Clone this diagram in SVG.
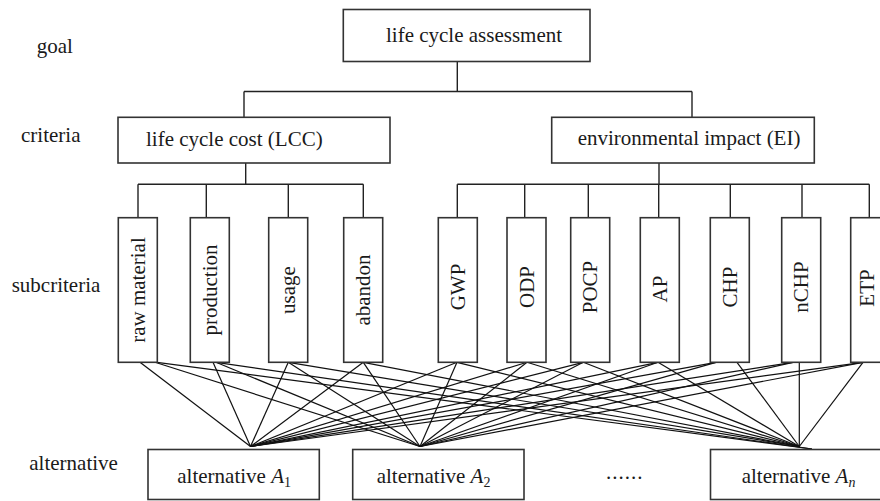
<svg xmlns="http://www.w3.org/2000/svg" width="880" height="501" viewBox="0 0 880 501">
<style>
text{font-family:"Liberation Serif","Times New Roman",serif;font-size:21px;fill:#1a1a1a}
.box{fill:#fff;stroke:#333;stroke-width:1.6}
.tree line{stroke:#222;stroke-width:1.4}
.links line{stroke:#111;stroke-width:1.2}
.v{text-anchor:middle}
.sub{font-size:14px}
</style>
<rect width="880" height="501" fill="#fff"/>
<g id="labels">
<text x="36.7" y="53.3">goal</text>
<text x="21" y="141.7">criteria</text>
<text x="11.7" y="291.7">subcriteria</text>
<text x="29.3" y="470">alternative</text>
</g>
<g id="connectors">
<g class="tree">
<line x1="457.3" y1="61.5" x2="457.3" y2="91.5"/>
<line x1="244" y1="91.5" x2="692" y2="91.5"/>
<line x1="244" y1="91.5" x2="244" y2="117.3"/>
<line x1="692" y1="91.5" x2="692" y2="117.3"/>
<line x1="245.7" y1="163" x2="245.7" y2="184.3"/>
<line x1="138" y1="184.3" x2="363.3" y2="184.3"/>
<line x1="138" y1="184.3" x2="138" y2="217.7"/>
<line x1="206.3" y1="184.3" x2="206.3" y2="217.7"/>
<line x1="288.3" y1="184.3" x2="288.3" y2="217.7"/>
<line x1="363.3" y1="184.3" x2="363.3" y2="217.7"/>
<line x1="659" y1="163" x2="659" y2="184.3"/>
<line x1="457.3" y1="184.3" x2="869.3" y2="184.3"/>
<line x1="457.3" y1="184.3" x2="457.3" y2="217.7"/>
<line x1="524.7" y1="184.3" x2="524.7" y2="217.7"/>
<line x1="588.3" y1="184.3" x2="588.3" y2="217.7"/>
<line x1="658.7" y1="184.3" x2="658.7" y2="217.7"/>
<line x1="730.3" y1="184.3" x2="730.3" y2="217.7"/>
<line x1="802" y1="184.3" x2="802" y2="217.7"/>
<line x1="869.3" y1="184.3" x2="869.3" y2="217.7"/>
</g>
<g class="links">
<line x1="140" y1="362.3" x2="250.5" y2="446.5"/>
<line x1="155" y1="362.3" x2="420" y2="446.5"/>
<line x1="157" y1="362.3" x2="812" y2="449"/>
<line x1="213" y1="362.3" x2="250.5" y2="446.5"/>
<line x1="216" y1="362.3" x2="420" y2="446.5"/>
<line x1="216" y1="362.3" x2="812" y2="449"/>
<line x1="288.3" y1="362.3" x2="250.5" y2="446.5"/>
<line x1="288.3" y1="362.3" x2="420" y2="446.5"/>
<line x1="288.3" y1="362.3" x2="799.3" y2="446.5"/>
<line x1="363.3" y1="362.3" x2="250.5" y2="446.5"/>
<line x1="363.3" y1="362.3" x2="420" y2="446.5"/>
<line x1="363.3" y1="362.3" x2="799.3" y2="446.5"/>
<line x1="457" y1="362.3" x2="250.5" y2="446.5"/>
<line x1="457" y1="362.3" x2="420" y2="446.5"/>
<line x1="457" y1="362.3" x2="799.3" y2="446.5"/>
<line x1="527" y1="362.3" x2="250.5" y2="446.5"/>
<line x1="527" y1="362.3" x2="420" y2="446.5"/>
<line x1="527" y1="362.3" x2="799.3" y2="446.5"/>
<line x1="583.3" y1="362.3" x2="250.5" y2="446.5"/>
<line x1="583.3" y1="362.3" x2="420" y2="446.5"/>
<line x1="583.3" y1="362.3" x2="799.3" y2="446.5"/>
<line x1="658" y1="362.3" x2="250.5" y2="446.5"/>
<line x1="658" y1="362.3" x2="420" y2="446.5"/>
<line x1="658" y1="362.3" x2="799.3" y2="446.5"/>
<line x1="716" y1="362.3" x2="250.5" y2="446.5"/>
<line x1="716" y1="362.3" x2="420" y2="446.5"/>
<line x1="737" y1="362.3" x2="799.3" y2="446.5"/>
<line x1="793" y1="362.3" x2="250.5" y2="446.5"/>
<line x1="793" y1="362.3" x2="420" y2="446.5"/>
<line x1="799.3" y1="362.3" x2="799.3" y2="446.5"/>
<line x1="863" y1="362.3" x2="250.5" y2="446.5"/>
<line x1="863" y1="362.3" x2="420" y2="446.5"/>
<line x1="863" y1="362.3" x2="799.3" y2="446.5"/>
</g>
</g>
<g id="goal"><rect class="box" x="343.3" y="9.5" width="246.7" height="52"/><text x="386" y="41.7">life cycle assessment</text></g>
<g id="lcc"><rect class="box" x="118" y="117.3" width="272" height="45.7"/><text x="146" y="145.7">life cycle cost (LCC)</text></g>
<g id="ei"><rect class="box" x="551.7" y="117.3" width="262.6" height="45.7"/><text x="577.7" y="145">environmental impact (EI)</text></g>
<g id="raw-material"><rect class="box" x="118.3" y="217.7" width="39" height="144.6"/><text class="v" transform="translate(145,290) rotate(-90)">raw material</text></g>
<g id="production"><rect class="box" x="190.3" y="217.7" width="39" height="144.6"/><text class="v" transform="translate(217,290) rotate(-90)">production</text></g>
<g id="usage"><rect class="box" x="268.7" y="217.7" width="39" height="144.6"/><text class="v" transform="translate(295.4,290) rotate(-90)">usage</text></g>
<g id="abandon"><rect class="box" x="343.7" y="217.7" width="39" height="144.6"/><text class="v" transform="translate(370.4,290) rotate(-90)">abandon</text></g>
<g id="gwp"><rect class="box" x="438.3" y="217.7" width="39" height="144.6"/><text class="v" transform="translate(465,287) rotate(-90)">GWP</text></g>
<g id="odp"><rect class="box" x="507" y="217.7" width="39" height="144.6"/><text class="v" transform="translate(533.7,287) rotate(-90)">ODP</text></g>
<g id="pocp"><rect class="box" x="570.7" y="217.7" width="39" height="144.6"/><text class="v" transform="translate(597.4,287) rotate(-90)">POCP</text></g>
<g id="ap"><rect class="box" x="640.3" y="217.7" width="39" height="144.6"/><text class="v" transform="translate(667,289) rotate(-90)">AP</text></g>
<g id="chp"><rect class="box" x="710.3" y="217.7" width="39" height="144.6"/><text class="v" transform="translate(737,287) rotate(-90)">CHP</text></g>
<g id="nchp"><rect class="box" x="781.7" y="217.7" width="39" height="144.6"/><text class="v" transform="translate(808.4,287) rotate(-90)">nCHP</text></g>
<g id="etp"><rect class="box" x="850.7" y="217.7" width="39" height="144.6"/><text class="v" transform="translate(873.5,288) rotate(-90)">ETP</text></g>
<g id="alt-a1"><rect class="box" x="148" y="449.5" width="171.3" height="50"/><text x="177.3" y="482.7">alternative <tspan font-style="italic">A</tspan><tspan class="sub" dy="4">1</tspan></text></g>
<g id="alt-a2"><rect class="box" x="352.7" y="449.5" width="171.3" height="50"/><text x="376.7" y="482.7">alternative <tspan font-style="italic">A</tspan><tspan class="sub" dy="4">2</tspan></text></g>
<g id="dots"><text x="606" y="479" letter-spacing="1">......</text></g>
<g id="alt-an"><rect class="box" x="710.5" y="449.5" width="175" height="50"/><text x="741.7" y="482.7">alternative <tspan font-style="italic">A</tspan><tspan class="sub" font-style="italic" dy="4">n</tspan></text></g>
</svg>
